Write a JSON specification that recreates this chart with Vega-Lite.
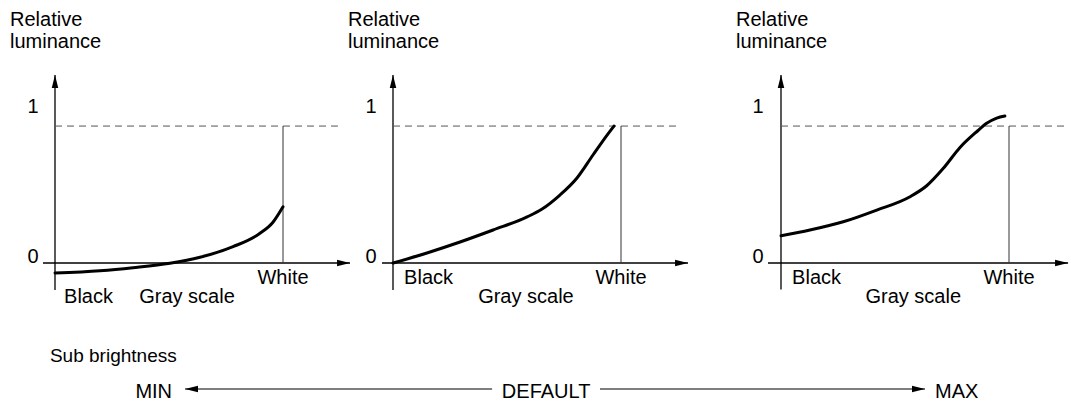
{
  "$schema": "https://vega.github.io/schema/vega-lite/v6.json",
  "padding": 0,
  "background": "white",
  "bounds": "full",
  "spacing": 0,
  "config": {
    "view": {"stroke": null},
    "font": "Liberation Sans",
    "concat": {"spacing": 0}
  },
  "datasets": {
    "panel1": [
      {"kind": "axis", "x": 0, "y": -0.18, "x2": 0, "y2": 1.2533},
      {"kind": "axis", "x": -0.0526, "y": 0, "x2": 1.294, "y2": 0},
      {"kind": "ref", "x": 0, "y": 0.913, "x2": 1.241, "y2": 0.913},
      {"kind": "white", "x": 1, "y": 0, "x2": 1, "y2": 0.913},
      {"kind": "tip_up", "x": 0, "y": 1.2533},
      {"kind": "tip_right", "x": 1.294, "y": 0},
      {"kind": "curve", "x": 0, "y": -0.067},
      {"kind": "curve", "x": 0.197, "y": -0.051},
      {"kind": "curve", "x": 0.342, "y": -0.031},
      {"kind": "curve", "x": 0.504, "y": -0.002},
      {"kind": "curve", "x": 0.636, "y": 0.038},
      {"kind": "curve", "x": 0.781, "y": 0.109},
      {"kind": "curve", "x": 0.899, "y": 0.198},
      {"kind": "curve", "x": 0.956, "y": 0.272},
      {"kind": "curve", "x": 1.0, "y": 0.375},
      {"kind": "ytitle", "x": -0.1974, "y": 1.58, "text": "Relative\nluminance"},
      {"kind": "label", "x": -0.0965, "y": 1, "text": "1"},
      {"kind": "label", "x": -0.0965, "y": 0, "text": "0"},
      {"kind": "label", "x": 1.0, "y": -0.14, "text": "White"},
      {"kind": "label", "x": 0.147, "y": -0.2667, "text": "Black"},
      {"kind": "label", "x": 0.579, "y": -0.2667, "text": "Gray scale"}
    ],
    "panel2": [
      {"kind": "axis", "x": 0, "y": -0.18, "x2": 0, "y2": 1.2533},
      {"kind": "axis", "x": -0.0482, "y": 0, "x2": 1.294, "y2": 0},
      {"kind": "ref", "x": 0, "y": 0.913, "x2": 1.246, "y2": 0.913},
      {"kind": "white", "x": 1, "y": 0, "x2": 1, "y2": 0.913},
      {"kind": "tip_up", "x": 0, "y": 1.2533},
      {"kind": "tip_right", "x": 1.294, "y": 0},
      {"kind": "curve", "x": 0, "y": 0},
      {"kind": "curve", "x": 0.149, "y": 0.067},
      {"kind": "curve", "x": 0.294, "y": 0.14},
      {"kind": "curve", "x": 0.439, "y": 0.22},
      {"kind": "curve", "x": 0.588, "y": 0.307},
      {"kind": "curve", "x": 0.654, "y": 0.36},
      {"kind": "curve", "x": 0.732, "y": 0.453},
      {"kind": "curve", "x": 0.807, "y": 0.567},
      {"kind": "curve", "x": 0.877, "y": 0.72},
      {"kind": "curve", "x": 0.939, "y": 0.853},
      {"kind": "curve", "x": 0.969, "y": 0.913},
      {"kind": "ytitle", "x": -0.1974, "y": 1.58, "text": "Relative\nluminance"},
      {"kind": "label", "x": -0.0965, "y": 1, "text": "1"},
      {"kind": "label", "x": -0.0965, "y": 0, "text": "0"},
      {"kind": "label", "x": 1.0, "y": -0.14, "text": "White"},
      {"kind": "label", "x": 0.156, "y": -0.14, "text": "Black"},
      {"kind": "label", "x": 0.583, "y": -0.2667, "text": "Gray scale"}
    ],
    "panel3": [
      {"kind": "axis", "x": 0, "y": -0.177, "x2": 0, "y2": 1.2533},
      {"kind": "axis", "x": -0.057, "y": 0, "x2": 1.259, "y2": 0},
      {"kind": "ref", "x": 0, "y": 0.913, "x2": 1.25, "y2": 0.913},
      {"kind": "white", "x": 1, "y": 0, "x2": 1, "y2": 0.913},
      {"kind": "tip_up", "x": 0, "y": 1.2533},
      {"kind": "tip_right", "x": 1.259, "y": 0},
      {"kind": "curve", "x": 0, "y": 0.182},
      {"kind": "curve", "x": 0.127, "y": 0.22},
      {"kind": "curve", "x": 0.273, "y": 0.275},
      {"kind": "curve", "x": 0.42, "y": 0.353},
      {"kind": "curve", "x": 0.566, "y": 0.442},
      {"kind": "curve", "x": 0.639, "y": 0.515},
      {"kind": "curve", "x": 0.712, "y": 0.631},
      {"kind": "curve", "x": 0.785, "y": 0.77},
      {"kind": "curve", "x": 0.858, "y": 0.875},
      {"kind": "curve", "x": 0.902, "y": 0.931},
      {"kind": "curve", "x": 0.946, "y": 0.966},
      {"kind": "curve", "x": 0.982, "y": 0.98},
      {"kind": "ytitle", "x": -0.1974, "y": 1.58, "text": "Relative\nluminance"},
      {"kind": "label", "x": -0.101, "y": 1, "text": "1"},
      {"kind": "label", "x": -0.101, "y": 0, "text": "0"},
      {"kind": "label", "x": 1.0, "y": -0.14, "text": "White"},
      {"kind": "label", "x": 0.156, "y": -0.14, "text": "Black"},
      {"kind": "label", "x": 0.58, "y": -0.2667, "text": "Gray scale"}
    ],
    "scale": [
      {"kind": "heading", "x": -1.365, "y": 1, "text": "Sub brightness"},
      {"kind": "min", "x": -1.035, "y": 0, "text": "MIN"},
      {"kind": "default", "x": -0.024, "y": 0, "text": "DEFAULT"},
      {"kind": "max", "x": 1.027, "y": 0, "text": "MAX"},
      {"kind": "line", "x": -1, "x2": -0.17, "y": 0},
      {"kind": "line", "x": 0.1216, "x2": 1, "y": 0},
      {"kind": "tip_left", "x": -1, "y": 0},
      {"kind": "tip_right", "x": 1, "y": 0}
    ]
  },
  "vconcat": [
    {
      "hconcat": [
        {
          "width": 357, "height": 320,
          "data": {"name": "panel1"},
          "encoding": {
            "x": {"field": "x", "type": "quantitative", "scale": {"domain": [-0.24123, 1.32456], "zero": false, "nice": false}, "axis": null},
            "y": {"field": "y", "type": "quantitative", "scale": {"domain": [-0.38, 1.75333], "zero": false, "nice": false}, "axis": null}
          },
          "layer": [
            {"transform": [{"filter": "datum.kind === 'axis'"}], "mark": {"type": "rule", "color": "#000", "strokeWidth": 1.3}, "encoding": {"x2": {"field": "x2"}, "y2": {"field": "y2"}}},
            {"transform": [{"filter": "datum.kind === 'ref'"}], "mark": {"type": "rule", "color": "#555", "strokeWidth": 1, "strokeDash": [7, 5]}, "encoding": {"x2": {"field": "x2"}, "y2": {"field": "y2"}}},
            {"transform": [{"filter": "datum.kind === 'white'"}], "mark": {"type": "rule", "color": "#333", "strokeWidth": 1}, "encoding": {"x2": {"field": "x2"}, "y2": {"field": "y2"}}},
            {"transform": [{"filter": "datum.kind === 'curve'"}], "mark": {"type": "line", "color": "#000", "strokeWidth": 3, "interpolate": "monotone", "strokeCap": "round"}},
            {"transform": [{"filter": "datum.kind === 'tip_up'"}], "mark": {"type": "point", "shape": "M0,0L-0.5,2L0.5,2Z", "size": 169, "filled": true, "color": "#000", "opacity": 1}},
            {"transform": [{"filter": "datum.kind === 'tip_right'"}], "mark": {"type": "point", "shape": "M0,0L-2,-0.5L-2,0.5Z", "size": 169, "filled": true, "color": "#000", "opacity": 1}},
            {"transform": [{"filter": "datum.kind === 'ytitle'"}], "mark": {"type": "text", "align": "left", "baseline": "alphabetic", "lineBreak": "\n", "lineHeight": 22, "fontSize": 20, "color": "#000"}, "encoding": {"text": {"field": "text"}}},
            {"transform": [{"filter": "datum.kind === 'label'"}], "mark": {"type": "text", "align": "center", "baseline": "alphabetic", "fontSize": 20, "color": "#000"}, "encoding": {"text": {"field": "text"}}}
          ]
        },
        {
          "width": 357, "height": 320,
          "data": {"name": "panel2"},
          "encoding": {
            "x": {"field": "x", "type": "quantitative", "scale": {"domain": [-0.15789, 1.40789], "zero": false, "nice": false}, "axis": null},
            "y": {"field": "y", "type": "quantitative", "scale": {"domain": [-0.38, 1.75333], "zero": false, "nice": false}, "axis": null}
          },
          "layer": [
            {"transform": [{"filter": "datum.kind === 'axis'"}], "mark": {"type": "rule", "color": "#000", "strokeWidth": 1.3}, "encoding": {"x2": {"field": "x2"}, "y2": {"field": "y2"}}},
            {"transform": [{"filter": "datum.kind === 'ref'"}], "mark": {"type": "rule", "color": "#555", "strokeWidth": 1, "strokeDash": [7, 5]}, "encoding": {"x2": {"field": "x2"}, "y2": {"field": "y2"}}},
            {"transform": [{"filter": "datum.kind === 'white'"}], "mark": {"type": "rule", "color": "#333", "strokeWidth": 1}, "encoding": {"x2": {"field": "x2"}, "y2": {"field": "y2"}}},
            {"transform": [{"filter": "datum.kind === 'curve'"}], "mark": {"type": "line", "color": "#000", "strokeWidth": 3, "interpolate": "monotone", "strokeCap": "round"}},
            {"transform": [{"filter": "datum.kind === 'tip_up'"}], "mark": {"type": "point", "shape": "M0,0L-0.5,2L0.5,2Z", "size": 169, "filled": true, "color": "#000", "opacity": 1}},
            {"transform": [{"filter": "datum.kind === 'tip_right'"}], "mark": {"type": "point", "shape": "M0,0L-2,-0.5L-2,0.5Z", "size": 169, "filled": true, "color": "#000", "opacity": 1}},
            {"transform": [{"filter": "datum.kind === 'ytitle'"}], "mark": {"type": "text", "align": "left", "baseline": "alphabetic", "lineBreak": "\n", "lineHeight": 22, "fontSize": 20, "color": "#000"}, "encoding": {"text": {"field": "text"}}},
            {"transform": [{"filter": "datum.kind === 'label'"}], "mark": {"type": "text", "align": "center", "baseline": "alphabetic", "fontSize": 20, "color": "#000"}, "encoding": {"text": {"field": "text"}}}
          ]
        },
        {
          "width": 357, "height": 320,
          "data": {"name": "panel3"},
          "encoding": {
            "x": {"field": "x", "type": "quantitative", "scale": {"domain": [-0.29386, 1.27193], "zero": false, "nice": false}, "axis": null},
            "y": {"field": "y", "type": "quantitative", "scale": {"domain": [-0.38, 1.75333], "zero": false, "nice": false}, "axis": null}
          },
          "layer": [
            {"transform": [{"filter": "datum.kind === 'axis'"}], "mark": {"type": "rule", "color": "#000", "strokeWidth": 1.3}, "encoding": {"x2": {"field": "x2"}, "y2": {"field": "y2"}}},
            {"transform": [{"filter": "datum.kind === 'ref'"}], "mark": {"type": "rule", "color": "#555", "strokeWidth": 1, "strokeDash": [7, 5]}, "encoding": {"x2": {"field": "x2"}, "y2": {"field": "y2"}}},
            {"transform": [{"filter": "datum.kind === 'white'"}], "mark": {"type": "rule", "color": "#333", "strokeWidth": 1}, "encoding": {"x2": {"field": "x2"}, "y2": {"field": "y2"}}},
            {"transform": [{"filter": "datum.kind === 'curve'"}], "mark": {"type": "line", "color": "#000", "strokeWidth": 3, "interpolate": "monotone", "strokeCap": "round"}},
            {"transform": [{"filter": "datum.kind === 'tip_up'"}], "mark": {"type": "point", "shape": "M0,0L-0.5,2L0.5,2Z", "size": 169, "filled": true, "color": "#000", "opacity": 1}},
            {"transform": [{"filter": "datum.kind === 'tip_right'"}], "mark": {"type": "point", "shape": "M0,0L-2,-0.5L-2,0.5Z", "size": 169, "filled": true, "color": "#000", "opacity": 1}},
            {"transform": [{"filter": "datum.kind === 'ytitle'"}], "mark": {"type": "text", "align": "left", "baseline": "alphabetic", "lineBreak": "\n", "lineHeight": 22, "fontSize": 20, "color": "#000"}, "encoding": {"text": {"field": "text"}}},
            {"transform": [{"filter": "datum.kind === 'label'"}], "mark": {"type": "text", "align": "center", "baseline": "alphabetic", "fontSize": 20, "color": "#000"}, "encoding": {"text": {"field": "text"}}}
          ]
        }
      ],
      "spacing": 0,
      "bounds": "flush"
    },
    {
      "width": 1071, "height": 85,
      "data": {"name": "scale"},
      "encoding": {
        "x": {"field": "x", "type": "quantitative", "scale": {"domain": [-1.5, 1.3946], "zero": false, "nice": false}, "axis": null},
        "y": {"field": "y", "type": "quantitative", "scale": {"domain": [-0.4706, 2.0294], "zero": false, "nice": false}, "axis": null}
      },
      "layer": [
        {"transform": [{"filter": "datum.kind === 'line'"}], "mark": {"type": "rule", "color": "#000", "strokeWidth": 1.2}, "encoding": {"x2": {"field": "x2"}}},
        {"transform": [{"filter": "datum.kind === 'tip_left'"}], "mark": {"type": "point", "shape": "M0,0L2,-0.5L2,0.5Z", "size": 169, "filled": true, "color": "#000", "opacity": 1}},
        {"transform": [{"filter": "datum.kind === 'tip_right'"}], "mark": {"type": "point", "shape": "M0,0L-2,-0.5L-2,0.5Z", "size": 169, "filled": true, "color": "#000", "opacity": 1}},
        {"transform": [{"filter": "datum.kind === 'heading'"}], "mark": {"type": "text", "align": "left", "baseline": "alphabetic", "dy": 7, "fontSize": 19, "color": "#000"}, "encoding": {"text": {"field": "text"}}},
        {"transform": [{"filter": "datum.kind === 'min'"}], "mark": {"type": "text", "align": "right", "baseline": "alphabetic", "dy": 9, "fontSize": 20, "color": "#000"}, "encoding": {"text": {"field": "text"}}},
        {"transform": [{"filter": "datum.kind === 'default'"}], "mark": {"type": "text", "align": "center", "baseline": "alphabetic", "dy": 9, "fontSize": 20, "color": "#000"}, "encoding": {"text": {"field": "text"}}},
        {"transform": [{"filter": "datum.kind === 'max'"}], "mark": {"type": "text", "align": "left", "baseline": "alphabetic", "dy": 9, "fontSize": 20, "color": "#000"}, "encoding": {"text": {"field": "text"}}}
      ]
    }
  ]
}
